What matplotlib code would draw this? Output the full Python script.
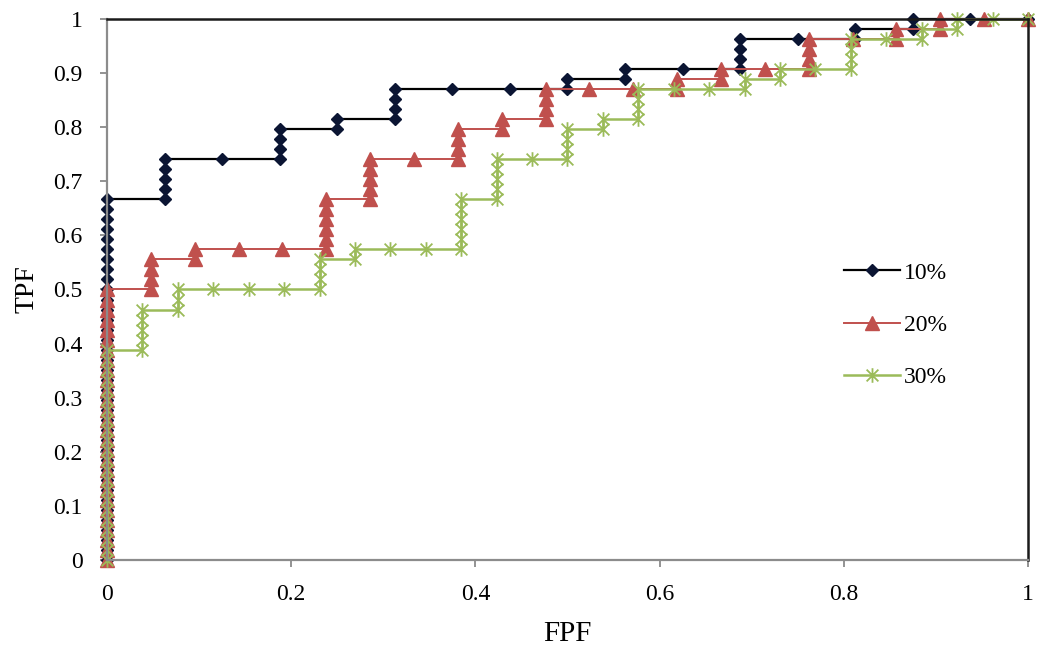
import matplotlib
matplotlib.use("Agg")
import matplotlib.pyplot as plt
from matplotlib.path import Path

plt.rcParams["font.family"] = ["Liberation Serif", "DejaVu Serif"]

# ROC operating points as counts: false positives out of N_NEG, true positives out of N_POS
N_POS = 54

N_NEG_10 = 16
fp_10 = [0, 0, 0, 0, 0, 0, 0, 0, 0, 0, 0, 0, 0, 0, 0, 0, 0, 0, 0, 0,
         0, 0, 0, 0, 0, 0, 0, 0, 0, 0, 0, 0, 0, 0, 0, 0, 0,
         1, 1, 1, 1, 1, 2, 3, 3, 3, 3, 4, 4, 5, 5, 5, 5, 6, 7, 8, 8,
         9, 9, 10, 11, 11, 11, 11, 12, 13, 13, 14, 14, 15, 16]
tp_10 = [0, 1, 2, 3, 4, 5, 6, 7, 8, 9, 10, 11, 12, 13, 14, 15, 16, 17, 18, 19,
         20, 21, 22, 23, 24, 25, 26, 27, 28, 29, 30, 31, 32, 33, 34, 35, 36,
         36, 37, 38, 39, 40, 40, 40, 41, 42, 43, 43, 44, 44, 45, 46, 47, 47, 47, 47, 48,
         48, 49, 49, 49, 50, 51, 52, 52, 52, 53, 53, 54, 54, 54]

N_NEG_20 = 21
fp_20 = [0, 0, 0, 0, 0, 0, 0, 0, 0, 0, 0, 0, 0, 0, 0, 0, 0, 0, 0, 0,
         0, 0, 0, 0, 0, 0, 0, 0,
         1, 1, 1, 1, 2, 2, 3, 4, 5, 5, 5, 5, 5, 5, 6, 6, 6, 6, 6, 7,
         8, 8, 8, 8, 9, 9, 10, 10, 10, 10, 11, 12, 13, 13, 14, 14, 15,
         16, 16, 16, 16, 17, 18, 18, 19, 19, 20, 21]
tp_20 = [0, 1, 2, 3, 4, 5, 6, 7, 8, 9, 10, 11, 12, 13, 14, 15, 16, 17, 18, 19,
         20, 21, 22, 23, 24, 25, 26, 27,
         27, 28, 29, 30, 30, 31, 31, 31, 31, 32, 33, 34, 35, 36, 36, 37, 38, 39, 40, 40,
         40, 41, 42, 43, 43, 44, 44, 45, 46, 47, 47, 47, 47, 48, 48, 49, 49,
         49, 50, 51, 52, 52, 52, 53, 53, 54, 54, 54]

N_NEG_30 = 26
fp_30 = [0, 0, 0, 0, 0, 0, 0, 0, 0, 0, 0, 0, 0, 0, 0, 0, 0, 0, 0, 0,
         0, 0,
         1, 1, 1, 1, 1, 2, 2, 2, 3, 4, 5, 6, 6, 6, 6, 7, 7, 8, 9,
         10, 10, 10, 10, 10, 10, 11, 11, 11, 11, 11, 12, 13, 13, 13, 13,
         14, 14, 15, 15, 15, 15, 16, 17, 18, 18, 19, 19, 20,
         21, 21, 21, 21, 22, 23, 23, 24, 24, 25, 26]
tp_30 = [0, 1, 2, 3, 4, 5, 6, 7, 8, 9, 10, 11, 12, 13, 14, 15, 16, 17, 18, 19,
         20, 21,
         21, 22, 23, 24, 25, 25, 26, 27, 27, 27, 27, 27, 28, 29, 30, 30, 31, 31, 31,
         31, 32, 33, 34, 35, 36, 36, 37, 38, 39, 40, 40, 40, 41, 42, 43,
         43, 44, 44, 45, 46, 47, 47, 47, 47, 48, 48, 49, 49,
         49, 50, 51, 52, 52, 52, 53, 53, 54, 54, 54]

labels = ["10%", "20%", "30%"]
x_ticks = [0, 0.2, 0.4, 0.6, 0.8, 1]
x_tick_labels = ["0", "0.2", "0.4", "0.6", "0.8", "1"]
y_ticks = [0, 0.1, 0.2, 0.3, 0.4, 0.5, 0.6, 0.7, 0.8, 0.9, 1]
y_tick_labels = ["0", "0.1", "0.2", "0.3", "0.4", "0.5", "0.6", "0.7", "0.8", "0.9", "1"]

# asterisk-style star: an X crossed by a vertical bar
star = Path([(-0.5, -0.5), (0.5, 0.5), (-0.5, 0.5), (0.5, -0.5), (0, -0.62), (0, 0.62)],
            [Path.MOVETO, Path.LINETO, Path.MOVETO, Path.LINETO, Path.MOVETO, Path.LINETO])

fig = plt.figure(figsize=(10.37, 6.51), dpi=100)
ax = fig.add_axes([0.1032, 0.1398, 0.8881, 0.831])

series = [
    (fp_10, tp_10, N_NEG_10, dict(color="#000000", lw=1.6, marker="D", ms=6.0,
                                  mfc="#0b1533", mec="#0b1533")),
    (fp_20, tp_20, N_NEG_20, dict(color="#c0504d", lw=1.4, marker="^", ms=9.5,
                                  mfc="#c0504d", mec="#c0504d")),
    (fp_30, tp_30, N_NEG_30, dict(color="#9bbb59", lw=1.8, marker=star, ms=10.5,
                                  mfc="none", mec="#9bbb59", mew=1.3)),
]

for (fp, tp, n_neg, style), lab in zip(series, labels):
    fpf = [v / n_neg for v in fp]
    tpf = [v / N_POS for v in tp]
    ax.plot(fpf, tpf, label=lab, clip_on=False, **style)

ax.set_xlim(0, 1)
ax.set_ylim(0, 1)
ax.set_xticks(x_ticks)
ax.set_xticklabels(x_tick_labels)
ax.set_yticks(y_ticks)
ax.set_yticklabels(y_tick_labels)
ax.tick_params(axis="both", labelsize=17, color="#808080", length=5, width=1.2)
ax.tick_params(axis="y", pad=12.5)
ax.tick_params(axis="x", pad=12)

for side in ("left", "bottom"):
    ax.spines[side].set_color("#8c8c8c")
    ax.spines[side].set_linewidth(1.6)
for side in ("top", "right"):
    ax.spines[side].set_color("#1a1a1a")
    ax.spines[side].set_linewidth(1.8)

ax.set_xlabel("FPF", fontsize=21, labelpad=12)
ax.set_ylabel("TPF", fontsize=20, labelpad=10)

ax.legend(loc="upper left", bbox_to_anchor=(0.79, 0.568), frameon=False,
          fontsize=17, handlelength=2.35, handletextpad=0.2, labelspacing=1.3,
          borderaxespad=0)

fig.savefig("out.png", dpi=100)
